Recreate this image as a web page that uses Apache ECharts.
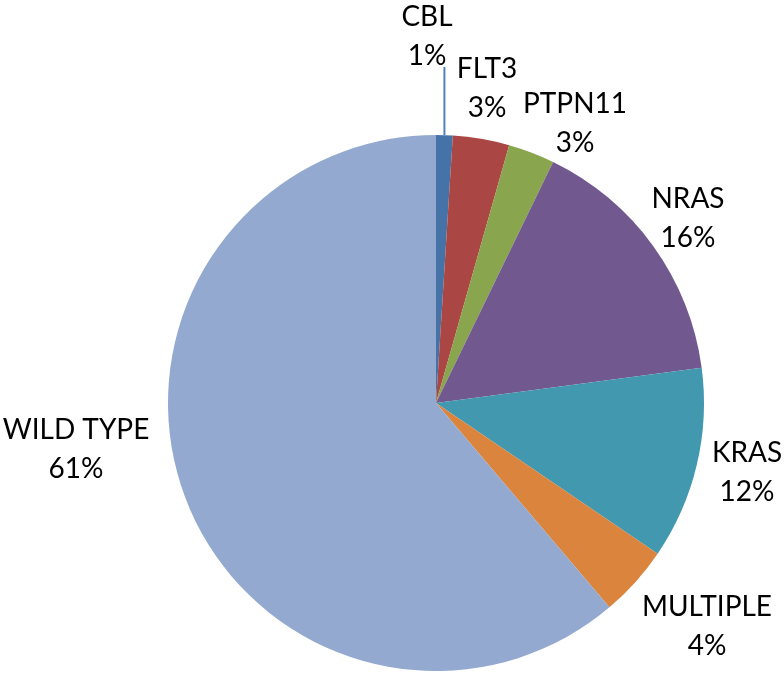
<!DOCTYPE html>
<html><head><meta charset="utf-8">
<script src="https://cdn.jsdelivr.net/npm/echarts@6/dist/echarts.min.js"></script>
<style>html,body{margin:0;padding:0;background:#fff}#c{width:784px;height:678px}</style>
</head><body><div id="c"></div>
<script>
var categories = ['CBL','FLT3','PTPN11','NRAS','KRAS','MULTIPLE','WILD TYPE'];
var values = [1.0, 3.4, 2.8, 15.7, 11.6, 4.3, 61.2];
var colors = ['#4572A7','#AA4643','#89A54E','#71588F','#4198AF','#DB843D','#93A9CF'];
// label block centres (layout only)
var labelPos = [[427,36],[487,88],[575,123],[688,218],[747,472],[707,626],[76,449]];

var chart = echarts.init(document.getElementById('c'), null, {renderer:'canvas'});
var data = categories.map(function(c,i){
  return {name:c, value:values[i], itemStyle:{color:colors[i]},
    labelLine:{show:i===0, lineStyle:{color:'#4F81BD', width:2}}};
});
chart.setOption({
  animation:false,
  series:[{
    type:'pie',
    center:[436,403],
    radius:268,
    startAngle:90,
    clockwise:true,
    avoidLabelOverlap:false,
    data:data,
    itemStyle:{borderWidth:0},
    label:{show:true, position:'outside', fontFamily:'Lato', fontSize:28, lineHeight:39, color:'#000',
      formatter:function(p){return p.name+'\n'+Math.round(p.percent)+'%';}},
    labelLine:{length:20,length2:0},
    labelLayout:function(p){
      var pos = labelPos[p.dataIndex];
      var o = {x:pos[0], y:pos[1], align:'center', verticalAlign:'middle'};
      if (p.dataIndex===0 && p.labelLinePoints){
        var e = p.labelLinePoints[0];
        o.labelLinePoints = [[e[0],e[1]],[e[0],67]];
      }
      return o;
    }
  }]
});
</script></body></html>
